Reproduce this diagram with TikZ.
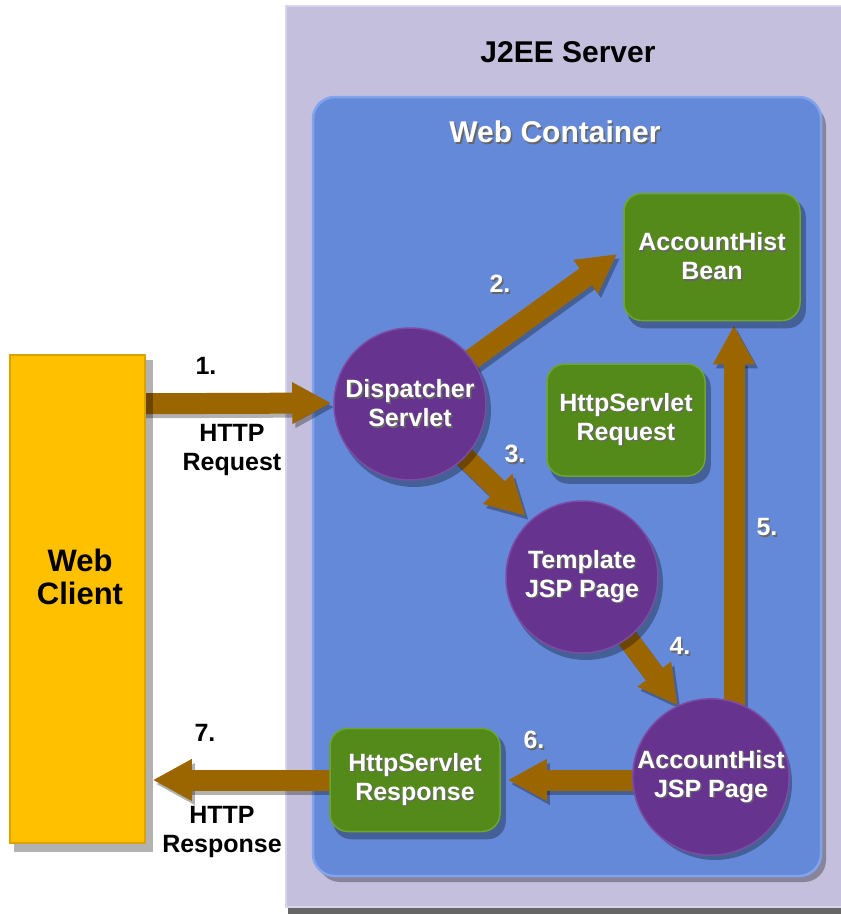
\documentclass[tikz,border=0pt]{standalone}
\usepackage{fontspec}
\setmainfont{Liberation Sans}
\usetikzlibrary{arrows.meta,calc}
\definecolor{srvbg}{HTML}{C3BFDD}
\definecolor{srvedge}{HTML}{D8D5EA}
\definecolor{contbg}{HTML}{6489D9}
\definecolor{contedge}{HTML}{80A3EC}
\definecolor{clientc}{HTML}{FFC000}
\definecolor{clientedge}{HTML}{D9A200}
\definecolor{greenc}{HTML}{548A1A}
\definecolor{greenedge}{HTML}{6CA62C}
\definecolor{purpc}{HTML}{66348F}
\definecolor{purpedge}{HTML}{7B4CA5}
\definecolor{arrowc}{HTML}{9B6500}
\newcommand\tsh[1]{\leavevmode\rlap{\kern1.6pt\raisebox{-1.6pt}{\color{black!60}#1}}#1}
\pgfdeclarelayer{bg}\pgfdeclarelayer{arr}\pgfdeclarelayer{nshad}\pgfsetlayers{bg,arr,nshad,main}
\begin{document}
\begin{tikzpicture}[x=1pt,y=-1pt,
  nodefont/.style={font=\bfseries\fontsize{25}{29}\selectfont},
  ball/.style={circle, minimum size=152pt, inner sep=0pt, fill=purpc, draw=purpedge, line width=1.5pt,
    text=white, align=center, nodefont},
  gbox/.style={rectangle, rounded corners=18pt, inner sep=0pt, fill=greenc, draw=greenedge, line width=1.5pt,
    text=white, align=center, nodefont},
  shadfill/.style={fill=black, fill opacity=0.3},
  bigarrow/.style={line width=21pt, draw=arrowc, -{Triangle[width=39pt,length=39pt]}},
  arrshad/.style={line width=21pt, draw=black, draw opacity=0.3, fill=black, fill opacity=0.3, -{Triangle[width=39pt,length=39pt]}},
  numw/.style={text=white, nodefont, inner sep=0pt},
  numb/.style={text=black, nodefont, inner sep=0pt, align=center},
  title/.style={font=\bfseries\fontsize{30}{36}\selectfont, inner sep=0pt}
]
\useasboundingbox (0,0) rectangle (841,914);
\begin{pgfonlayer}{bg}
  \fill[white] (0,0) rectangle (841,914);
  \fill[black!60] (288,12) rectangle (860,914);
  \path[fill=srvbg, draw=srvedge, line width=2pt] (286,6) rectangle (860,907);
  \fill[black, fill opacity=0.3] (318,104) [rounded corners=22pt] rectangle (826,882);
  \path[fill=contbg, draw=contedge, line width=2.5pt, rounded corners=22pt]
    (313,97) rectangle (821,876);
\end{pgfonlayer}

\node[title] (srvtitle) at (568,52) {J2EE Server};
\node[title, text=white] (conttitle) at (555,133) {\tsh{Web Container}};

% web client
\node[rectangle, minimum width=135pt, minimum height=488pt, fill=clientc, draw=clientedge, line width=1.5pt]
  (client) at (77.5,599) {};
\node[title, text=black, align=center, font=\bfseries\fontsize{31}{33}\selectfont] (clienttxt) at (80,577) {Web\\Client};

% components
\node[ball] (disp) at (410,404) {\tsh{Dispatcher}\\\tsh{Servlet}};
\node[ball] (tmpl) at (582,577) {\tsh{Template}\\\tsh{JSP Page}};
\node[ball] (acct) at (711,777) {\tsh{AccountHist}\\\tsh{JSP Page}};
\node[gbox, minimum width=176pt, minimum height=127pt] (bean) at (712,257) {\tsh{AccountHist}\\\tsh{Bean}};
\node[gbox, minimum width=158pt, minimum height=112pt] (req) at (626,420) {\tsh{HttpServlet}\\\tsh{Request}};
\node[gbox, minimum width=170pt, minimum height=103pt] (resp) at (415,780) {\tsh{HttpServlet}\\\tsh{Response}};

% node shadows
\begin{pgfonlayer}{nshad}
  \fill[shadfill] ($(client.north west)+(5,6)$) rectangle ($(client.south east)+(7,8)$);
  \foreach \n in {disp,tmpl,acct} \fill[shadfill] ($(\n.center)+(4,6)$) circle[radius=77pt];
  \foreach \n in {bean,req,resp} \fill[shadfill, rounded corners=18pt] ($(\n.north west)+(4,6)$) rectangle ($(\n.south east)+(5,7)$);
\end{pgfonlayer}

% connectors
\begin{pgfonlayer}{arr}
  \begin{scope}[transform canvas={shift={(3pt,-4pt)}}]
    \draw[arrshad] (client.center |- disp.center) -- ($(disp.west)+(-2,-1)$);
    \draw[arrshad] (disp.center) -- ($(bean.west)+(-6,-3)$);
    \draw[arrshad] (disp.center) -- ($(tmpl.132)+(-5,-4)$);
    \draw[arrshad] (tmpl.center) -- (acct.115);
    \draw[arrshad] ($(acct.center)+(23,0)$) -- ($(bean.south)+(22,4)$);
    \draw[arrshad] (acct.center |- resp.east) -- ($(resp.east)+(7,0)$);
    \draw[arrshad] (resp.center) -- ($(client.east |- resp.center)+(7,0)$);
  \end{scope}
  \draw[bigarrow] (client.center |- disp.center) -- ($(disp.west)+(-2,-1)$);
  \draw[bigarrow] (disp.center) -- ($(bean.west)+(-6,-3)$);
  \draw[bigarrow] (disp.center) -- ($(tmpl.132)+(-5,-4)$);
  \draw[bigarrow] (tmpl.center) -- (acct.115);
  \draw[bigarrow] ($(acct.center)+(23,0)$) -- ($(bean.south)+(22,4)$);
  \draw[bigarrow] (acct.center |- resp.east) -- ($(resp.east)+(7,0)$);
  \draw[bigarrow] (resp.center) -- ($(client.east |- resp.center)+(7,0)$);
\end{pgfonlayer}

% labels
\node[numb] (l1) at (206,366) {1.};
\node[numb] (l1b) at (232,450) {HTTP\\Request};
\node[numw] (l2) at (500,285) {\tsh{2.}};
\node[numw] (l3) at (515,455) {\tsh{3.}};
\node[numw] (l4) at (680,647) {\tsh{4.}};
\node[numw] (l5) at (767,528) {\tsh{5.}};
\node[numw] (l6) at (534,741) {\tsh{6.}};
\node[numb] (l7) at (205,733) {7.};
\node[numb] (l7b) at (222,832) {HTTP\\Response};
\end{tikzpicture}
\end{document}
